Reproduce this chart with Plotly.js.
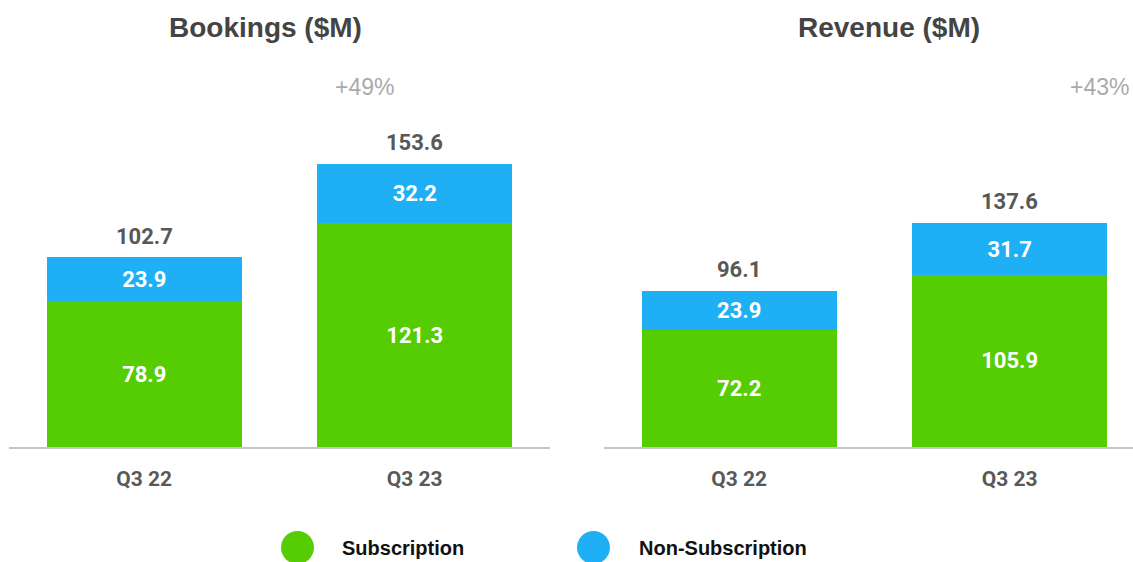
<!DOCTYPE html>
<html>
<head>
<meta charset="utf-8">
<script src="https://cdn.plot.ly/plotly-3.0.1.min.js"></script>
<style>html,body{margin:0;padding:0;background:#fff;}#chart{width:1133px;height:562px;}</style>
</head>
<body>
<div id="chart"></div>
<script>
const categories = ["Q3 22", "Q3 23"];
const bookingsSub = [78.9, 121.3];
const bookingsNonSub = [23.9, 32.2];
const bookingsTotal = [102.7, 153.6];
const revenueSub = [72.2, 105.9];
const revenueNonSub = [23.9, 31.7];
const revenueTotal = [96.1, 137.6];
const panelTitles = ["Bookings ($M)", "Revenue ($M)"];
const growthLabels = ["+49%", "+43%"];
const seriesNames = ["Subscription", "Non-Subscription"];

const GREEN = "#56CC02";
const BLUE = "#1FAFF5";
const ARIAL = "Liberation Sans, Arial, sans-serif";
const numFont = {family: "Roboto, sans-serif", size: 22, color: "#ffffff", weight: 700};

function barTrace(y, color, name, xa, ya) {
  return {
    type: "bar", x: categories, y: y, name: name,
    xaxis: xa, yaxis: ya,
    marker: {color: color, line: {width: 0}},
    width: 0.72,
    text: y.map(v => v.toFixed(1)),
    texttemplate: "%{text}",
    textposition: "inside",
    insidetextanchor: "middle",
    textfont: numFont,
    constraintext: "none",
    showlegend: false,
    hoverinfo: "skip"
  };
}

const data = [
  barTrace(bookingsSub, GREEN, seriesNames[0], "x", "y"),
  barTrace(bookingsNonSub, BLUE, seriesNames[1], "x", "y"),
  barTrace(revenueSub, GREEN, seriesNames[0], "x2", "y2"),
  barTrace(revenueNonSub, BLUE, seriesNames[1], "x2", "y2")
];

const annotations = [];
function totals(vals, xr, yr) {
  vals.forEach((v, i) => {
    annotations.push({
      x: categories[i], y: v, xref: xr, yref: yr,
      text: v.toFixed(1), showarrow: false,
      yanchor: "bottom", yshift: 7,
      font: {family: "Roboto, sans-serif", size: 22, color: "#585858", weight: 700}
    });
  });
}
totals(bookingsTotal, "x", "y");
totals(revenueTotal, "x2", "y2");

// panel titles
annotations.push({x: 265/1133, y: 1 - 28/562, xref: "paper", yref: "paper", text: "<b>" + panelTitles[0] + "</b>",
  showarrow: false, xanchor: "center", yanchor: "middle",
  font: {family: ARIAL, size: 28, color: "#444444"}});
annotations.push({x: 889/1133, y: 1 - 28/562, xref: "paper", yref: "paper", text: "<b>" + panelTitles[1] + "</b>",
  showarrow: false, xanchor: "center", yanchor: "middle",
  font: {family: ARIAL, size: 28, color: "#444444"}});
// growth labels
annotations.push({x: 364/1133, y: 1 - 87/562, xref: "paper", yref: "paper", text: growthLabels[0],
  showarrow: false, xanchor: "center", yanchor: "middle",
  font: {family: ARIAL, size: 23, color: "#aaaaaa"}});
annotations.push({x: 1068/1133, y: 1 - 87/562, xref: "paper", yref: "paper", text: growthLabels[1],
  showarrow: false, xanchor: "left", yanchor: "middle",
  font: {family: ARIAL, size: 23, color: "#aaaaaa"}});
// legend texts
annotations.push({x: 340/1133, y: 1 - 548/562, xref: "paper", yref: "paper", text: "<b>" + seriesNames[0] + "</b>",
  showarrow: false, xanchor: "left", yanchor: "middle",
  font: {family: ARIAL, size: 20, color: "#111111"}});
annotations.push({x: 637/1133, y: 1 - 548/562, xref: "paper", yref: "paper", text: "<b>" + seriesNames[1] + "</b>",
  showarrow: false, xanchor: "left", yanchor: "middle",
  font: {family: ARIAL, size: 20, color: "#111111"}});

const shapes = [
  {type: "circle", xref: "paper", yref: "paper", x0: 281/1133, x1: 314/1133, y0: 1 - 564/562, y1: 1 - 531/562,
   fillcolor: GREEN, line: {width: 0}},
  {type: "circle", xref: "paper", yref: "paper", x0: 577/1133, x1: 610/1133, y0: 1 - 564/562, y1: 1 - 531/562,
   fillcolor: BLUE, line: {width: 0}}
];

const baseY = 1 - 447/562;
const xaxisCommon = {
  type: "category", showline: true, linecolor: "#c4c4c4", linewidth: 2,
  showgrid: false, zeroline: false, ticks: "outside", ticklen: 12, tickcolor: "rgba(0,0,0,0)",
  tickfont: {family: "Roboto, sans-serif", size: 21, color: "#595959", weight: 700},
  fixedrange: true
};
const yaxisCommon = {visible: false, showgrid: false, zeroline: false, fixedrange: true};

const layout = {
  width: 1133, height: 562,
  margin: {l: 0, r: 0, t: 0, b: 0},
  paper_bgcolor: "#ffffff", plot_bgcolor: "#ffffff",
  barmode: "stack", bargap: 0.28,
  showlegend: false,
  xaxis: Object.assign({}, xaxisCommon, {domain: [9/1133, 550/1133], range: [-0.5, 1.5], anchor: "y"}),
  xaxis2: Object.assign({}, xaxisCommon, {domain: [604/1133, 1], range: [-0.5, 1.456], anchor: "y2"}),
  yaxis: Object.assign({}, yaxisCommon, {domain: [baseY, 1], range: [0, 242.3], anchor: "x"}),
  yaxis2: Object.assign({}, yaxisCommon, {domain: [baseY, 1], range: [0, 275], anchor: "x2"}),
  annotations: annotations,
  shapes: shapes
};

Plotly.newPlot("chart", data, layout, {staticPlot: true, displayModeBar: false});
</script>
</body>
</html>
